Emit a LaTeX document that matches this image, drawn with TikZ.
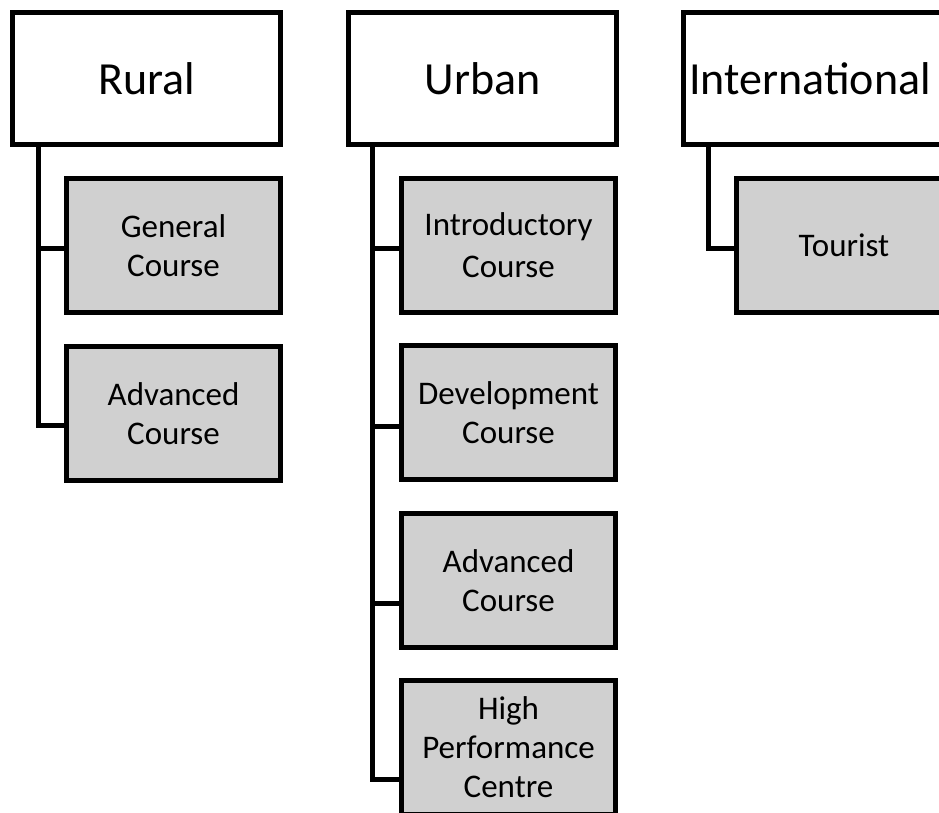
\documentclass[tikz,border=0pt]{standalone}
\usepackage{fontspec}
\setmainfont{Carlito}
\usetikzlibrary{calc}
\definecolor{boxgray}{HTML}{D0D0D0}
\begin{document}
\begin{tikzpicture}[x=1pt,y=-1pt,
  topbox/.style={draw, line width=5pt, fill=white, minimum width=268pt, minimum height=132pt,
    font=\fontsize{46}{55}\selectfont, inner sep=0pt, anchor=north west},
  childbox/.style={draw, line width=5pt, fill=boxgray, minimum width=214pt, minimum height=134pt,
    font=\fontsize{33}{39}\selectfont, align=center, inner sep=0pt, anchor=north west},
  conn/.style={line width=5pt}]
\useasboundingbox (0,0) rectangle (939,812);
% top level
\node[topbox] (rural) at (10,10) {Rural};
\node[topbox] (urban) at (346,10) {Urban};
\node[topbox] (intl) at (681,10) {};
\node[font=\fontsize{46}{55}\selectfont, anchor=west, inner sep=0pt] (intltext) at ($(intl.west)+(8,0)$) {International};
% rural children
\node[childbox] (gen) at (64,176) {General\\Course};
\node[childbox] (radv) at (64,344) {Advanced\\Course};
% urban children
\node[childbox] (intro) at (399,176) {Introductory\\[3pt]Course};
\node[childbox] (dev) at (399,343) {Development\\Course};
\node[childbox] (uadv) at (399,511) {Advanced\\Course};
\node[childbox] (hpc) at (399,678) {High\\Performance\\Centre};
% international child
\node[childbox, minimum width=215pt] (tour) at (734,176) {Tourist};
% connectors
\draw[conn] ($(rural.south west)+(28,0)$) |- ($(radv.north west)+(0,81)$);
\draw[conn] ($(rural.south west)+(28,0)$) |- ($(gen.north west)+(0,72)$);
\draw[conn] ($(urban.south west)+(26,0)$) |- ($(hpc.north west)+(0,101)$);
\draw[conn] ($(urban.south west)+(26,0)$) |- ($(uadv.north west)+(0,92)$);
\draw[conn] ($(urban.south west)+(26,0)$) |- ($(dev.north west)+(0,83)$);
\draw[conn] ($(urban.south west)+(26,0)$) |- ($(intro.north west)+(0,72)$);
\draw[conn] ($(intl.south west)+(27,0)$) |- ($(tour.north west)+(0,72)$);
\end{tikzpicture}
\end{document}
